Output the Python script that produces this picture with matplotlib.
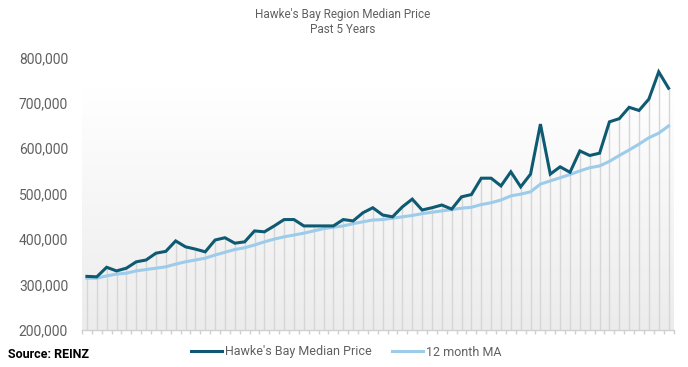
import numpy as np
import matplotlib
matplotlib.use("Agg")
import matplotlib.pyplot as plt
from matplotlib.lines import Line2D
from matplotlib.colors import LinearSegmentedColormap

median_price = [318, 317, 338, 330, 336, 350, 354, 369, 373, 396,
                383, 378, 372, 398, 403, 391, 394, 418, 416, 429,
                443, 443, 429, 429, 429, 429, 443, 440, 458, 469,
                453, 449, 471, 488, 464, 469, 475, 466, 493, 498,
                534, 534, 517, 548, 515, 543, 653, 543, 559, 547,
                594, 584, 589, 658, 665, 690, 683, 708, 768, 732]
moving_avg = [314, 314, 319, 323, 325, 330, 333, 336, 339, 345,
              350, 354, 358, 365, 371, 377, 381, 387, 394, 400,
              405, 409, 413, 418, 423, 426, 429, 434, 438, 442,
              443, 446, 449, 452, 456, 459, 462, 465, 468, 470,
              476, 480, 486, 495, 499, 504, 521, 528, 535, 542,
              550, 557, 561, 571, 584, 596, 609, 623, 633, 649]
y_ticks = [200000, 300000, 400000, 500000, 600000, 700000, 800000]
title = "Hawke's Bay Region Median Price\nPast 5 Years"
series_names = ["Hawke's Bay Median Price", "12 month MA"]

mp = np.array(median_price) * 1000
ma = np.array(moving_avg) * 1000
x = np.arange(len(mp))

plt.rcParams['font.family'] = ['Roboto', 'DejaVu Sans']
grey = '#606060'
dark = '#0f5a73'
light = '#9dcbea'

fig = plt.figure(figsize=(6.88, 3.67), dpi=100)
ax = fig.add_axes([82/688, 1-330/367, (673.5-82)/688, (330-57.3)/367])
ax.set_xlim(-0.5, 59.5)
ax.set_ylim(200000, 800000)

# gradient background
grad = np.linspace(0, 1, 256).reshape(-1, 1)
cmap = LinearSegmentedColormap.from_list('g', ['#ececec', '#ffffff'])
ax.imshow(grad, aspect='auto', cmap=cmap, origin='lower',
          extent=[-0.5, 59.5, 200000, 730000], zorder=0)

# drop lines
top = np.maximum(mp, ma)
ax.vlines(x, 200000, top, colors='#d6d6d6', linewidth=1.0, zorder=1)

ax.plot(x, ma, color=light, linewidth=2.2, zorder=3, solid_joinstyle='miter')
ax.plot(x, mp, color=dark, linewidth=2.2, zorder=4, solid_joinstyle='miter')

for s in ['top', 'right', 'left']:
    ax.spines[s].set_visible(False)
ax.spines['bottom'].set_color('#d0d0d0')
ax.spines['bottom'].set_linewidth(1.0)

ax.set_yticks(y_ticks)
ax.set_yticklabels([f"{v:,}" for v in y_ticks])
ax.tick_params(axis='y', length=0, pad=10, labelsize=10, labelcolor=grey)
ax.set_xticks(np.arange(-0.5, 60, 1))
ax.set_xticklabels([])
ax.tick_params(axis='x', length=3, color='#d0d0d0', width=1, direction='out')

fig.text(343/688, 1-22/367, title, ha='center', va='center',
         fontsize=8.5, color=grey, linespacing=1.2)

handles = [Line2D([0], [0], color=dark, linewidth=2.2),
           Line2D([0], [0], color=light, linewidth=2.2)]
fig.legend(handles, series_names, loc='center', bbox_to_anchor=(346/688, 1-352/367),
           ncol=2, frameon=False, fontsize=9, labelcolor=grey,
           handlelength=2.5, handletextpad=0.25, columnspacing=1.6)

fig.text(8/688, 1-354/367, "Source: REINZ", ha='left', va='center',
         fontsize=9, fontweight='bold', color='black')

fig.savefig('out.png', dpi=100)
